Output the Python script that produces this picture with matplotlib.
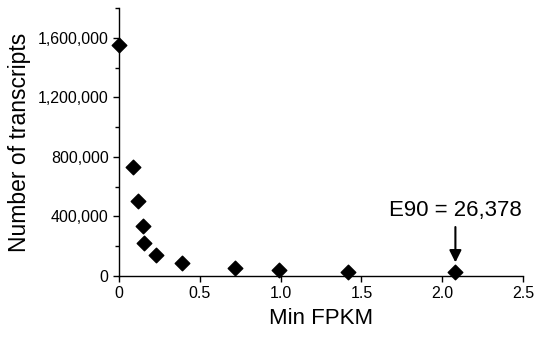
import matplotlib
matplotlib.use("Agg")
import matplotlib.pyplot as plt
from matplotlib.ticker import FuncFormatter, MultipleLocator

plt.rcParams['font.family'] = ['Liberation Sans', 'DejaVu Sans']

min_fpkm = [0.0, 0.085, 0.116, 0.150, 0.157, 0.231, 0.388, 0.716, 0.99, 1.419, 2.081]
n_transcripts = [1553000, 735000, 502000, 338000, 224000, 139000, 85000, 56000, 40000, 29000, 26378]
x_ticks = [0, 0.5, 1.0, 1.5, 2.0, 2.5]
x_tick_labels = ['0', '0.5', '1.0', '1.5', '2.0', '2.5']
y_ticks = [0, 400000, 800000, 1200000, 1600000]
annotation = 'E90 = 26,378'

fig = plt.figure(figsize=(5.36, 3.37), dpi=100)
ax = fig.add_axes([0.222, 0.181, 0.754, 0.795])
ax.scatter(min_fpkm, n_transcripts, marker='D', s=55, color='black', zorder=3, clip_on=False)

ax.set_xlim(0, 2.5)
ax.set_ylim(0, 1800000)
ax.set_xticks(x_ticks)
ax.set_xticklabels(x_tick_labels)
ax.set_yticks(y_ticks)
ax.yaxis.set_minor_locator(MultipleLocator(200000))
ax.yaxis.set_major_formatter(FuncFormatter(lambda v, p: f'{int(v):,}'))
for s in ['top', 'right']:
    ax.spines[s].set_visible(False)
for s in ['left', 'bottom']:
    ax.spines[s].set_linewidth(1.0)
ax.tick_params(axis='both', which='major', labelsize=11.5, length=4, width=1, direction='out', color='black')
ax.tick_params(axis='y', which='minor', length=3, width=1, direction='out')
ax.set_xlabel('Min FPKM', fontsize=16, labelpad=5)
ax.set_ylabel('Number of transcripts', fontsize=16.5, labelpad=5)

ax.annotate(annotation, xy=(min_fpkm[-1], n_transcripts[-1] + 65000),
            xytext=(min_fpkm[-1], n_transcripts[-1] + 340000),
            ha='center', va='bottom', fontsize=16,
            arrowprops=dict(arrowstyle='-|>', color='black', lw=1.5, mutation_scale=18,
                            shrinkA=2, shrinkB=0))

fig.savefig('out.png', dpi=100)
